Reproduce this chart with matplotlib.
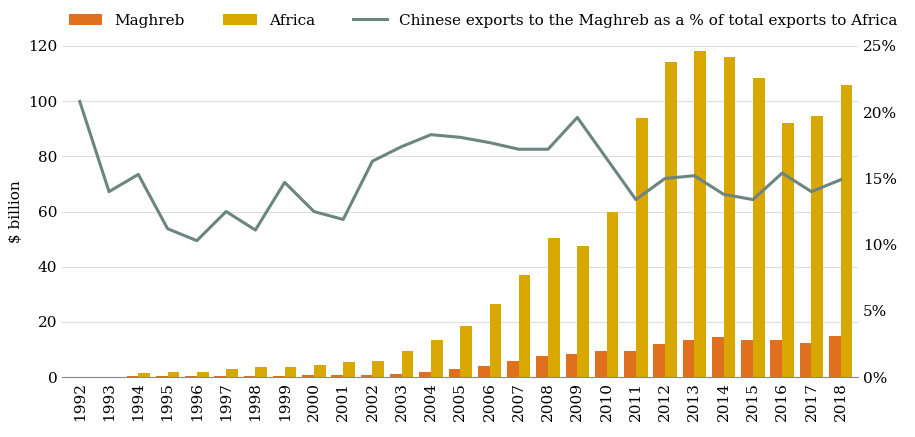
import numpy as np
import matplotlib.pyplot as plt
from matplotlib.ticker import FuncFormatter

years = list(range(1992, 2019))
maghreb = [0.2, 0.2, 0.3, 0.3, 0.3, 0.4, 0.4, 0.5, 0.6, 0.7, 0.9, 1.2, 2, 3, 4, 6,
           7.5, 8.5, 9.5, 9.5, 12, 13.5, 14.5, 13.5, 13.5, 12.5, 15]
africa = [0, 0, 1.5, 2, 2, 3, 3.5, 3.5, 4.5, 5.5, 6, 9.5, 13.5, 18.5, 26.5, 37,
          50.5, 47.5, 60, 94, 114, 118, 116, 108.5, 92, 94.5, 106]
share = [20.8, 14.0, 15.3, 11.2, 10.3, 12.5, 11.1, 14.7, 12.5, 11.9, 16.3, 17.4,
         18.3, 18.1, 17.7, 17.2, 17.2, 19.6, 16.5, 13.4, 15.0, 15.2, 13.8, 13.4,
         15.4, 14.0, 14.9]

plt.rcParams['font.family'] = 'DejaVu Serif'
plt.rcParams['font.size'] = 11

fig = plt.figure(figsize=(9.15, 4.37), dpi=100)
ax = fig.add_axes([0.068, 0.137, 0.87, 0.758])
x = np.arange(len(years))
w = 0.4
ax.bar(x - w / 2, maghreb, w, color='#E1701E', label='Maghreb')
ax.bar(x + w / 2, africa, w, color='#D9A800', label='Africa')
ax.set_xlim(-0.6, len(years) - 0.4)
ax.set_ylim(0, 120)
ax.set_yticks(range(0, 121, 20))
ax.set_xticks(x)
ax.set_xticklabels(years, rotation=90)
ax.set_ylabel('$ billion')
ax.grid(axis='y', color='#dddddd', lw=0.8)
ax.set_axisbelow(True)
for s in ['top', 'right', 'left']:
    ax.spines[s].set_visible(False)
ax.spines['bottom'].set_color('#888888')
ax.tick_params(length=0)

ax2 = ax.twinx()
ax2.plot(x, share, color='#6B8580', lw=2.2,
         label='Chinese exports to the Maghreb as a % of total exports to Africa')
ax2.set_ylim(0, 25)
ax2.set_yticks(range(0, 26, 5))
ax2.yaxis.set_major_formatter(FuncFormatter(lambda v, p: f'{int(v)}%'))
for s in ax2.spines.values():
    s.set_visible(False)
ax2.tick_params(length=0)

h1, l1 = ax.get_legend_handles_labels()
h2, l2 = ax2.get_legend_handles_labels()
fig.legend(h1 + h2, l1 + l2, loc='upper left', bbox_to_anchor=(0.06, 1.0),
           ncol=3, frameon=False, handlelength=2.2, columnspacing=2.5)

fig.savefig('out.png', dpi=100)
